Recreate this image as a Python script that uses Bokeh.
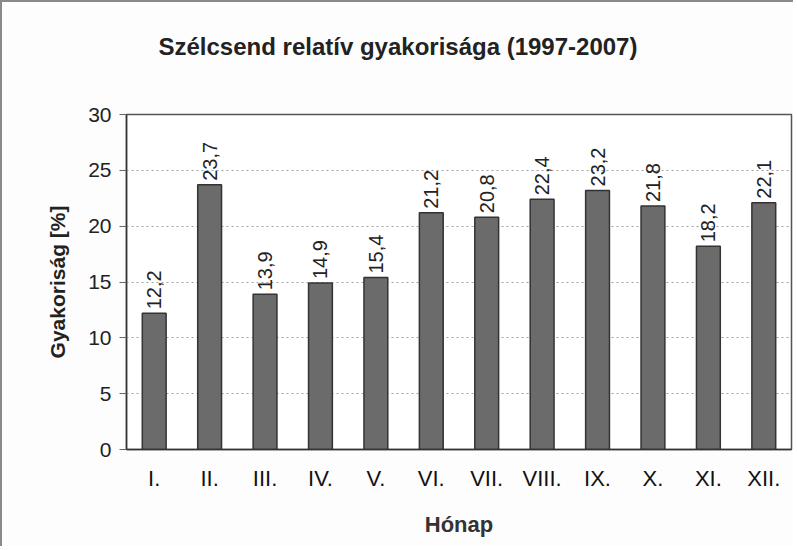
import math
from bokeh.plotting import figure
from bokeh.models import ColumnDataSource, FixedTicker, Title
from bokeh.core.properties import value
from bokeh.embed import file_html
from bokeh.resources import INLINE

months = ["I.", "II.", "III.", "IV.", "V.", "VI.", "VII.", "VIII.", "IX.", "X.", "XI.", "XII."]
freq = [12.2, 23.7, 13.9, 14.9, 15.4, 21.2, 20.8, 22.4, 23.2, 21.8, 18.2, 22.1]
labels = [f"{v:.1f}".replace(".", ",") for v in freq]
y_ticks = [0, 5, 10, 15, 20, 25, 30]

title = "Szélcsend relatív gyakorisága (1997-2007)"
x_label = "Hónap"
y_label = "Gyakoriság [%]"

src = ColumnDataSource(dict(m=months, v=freq, lab=labels))

p = figure(width=793, height=546, x_range=months, y_range=(0, 30),
           output_backend="svg", toolbar_location=None,
           min_border_left=124, min_border_right=4, min_border_top=112, min_border_bottom=99)

# spacer between frame and title, then the title itself (later = farther from frame)
p.add_layout(Title(text=" ", text_font_size="47px", standoff=0), "above")
p.add_layout(Title(text=title, align="left", offset=32, text_font="Liberation Sans",
                   text_font_size="24px", text_font_style="bold", text_color="#222222",
                   standoff=0), "above")

p.background_fill_color = "#ffffff"
p.border_fill_color = "#fdfdfd"
p.outline_line_color = "#555555"
p.outline_line_width = 1.5

p.vbar(x="m", top="v", width=0.43, source=src, fill_color="#6b6b6b",
       line_color="#333333", line_width=1.5)

p.text(x="m", y="v", text="lab", source=src, angle=math.pi / 2,
       text_align="left", text_baseline="middle", y_offset=-4,
       text_font=value("Liberation Sans"), text_font_size="20px", text_color="#222222")

p.xgrid.grid_line_color = None
p.ygrid.grid_line_color = "#a0a0a0"
p.ygrid.grid_line_dash = "2 3"
p.ygrid.grid_line_width = 1

p.yaxis.ticker = FixedTicker(ticks=y_ticks)
p.yaxis.axis_label = y_label
p.yaxis.axis_label_text_font = "Liberation Sans"
p.yaxis.axis_label_text_font_size = "21px"
p.yaxis.axis_label_text_font_style = "bold"
p.yaxis.axis_label_text_color = "#222222"
p.yaxis.axis_label_standoff = 16
p.yaxis.major_label_text_font = "Liberation Sans"
p.yaxis.major_label_text_font_size = "21px"
p.yaxis.major_label_text_color = "#222222"
p.yaxis.major_tick_out = 7
p.yaxis.major_tick_in = 0
p.yaxis.minor_tick_line_color = None
p.yaxis.major_label_standoff = 8
p.yaxis.axis_line_color = "#333333"
p.yaxis.axis_line_width = 1.5
p.yaxis.major_tick_line_color = "#666666"

p.xaxis.axis_label = x_label
p.xaxis.axis_label_text_font = "Liberation Sans"
p.xaxis.axis_label_text_font_size = "22px"
p.xaxis.axis_label_text_font_style = "bold"
p.xaxis.axis_label_text_color = "#333333"
p.xaxis.axis_label_standoff = 18
p.xaxis.major_label_text_font = "Liberation Sans"
p.xaxis.major_label_text_font_size = "22px"
p.xaxis.major_label_text_color = "#111111"
p.xaxis.major_label_standoff = 10
p.xaxis.major_tick_line_color = None
p.xaxis.axis_line_color = "#333333"
p.xaxis.axis_line_width = 1.5

p.styles = {"border-left": "2px solid #8a8a8a", "border-top": "2px solid #8a8a8a"}

open("out.html", "w").write(file_html(p, INLINE))
